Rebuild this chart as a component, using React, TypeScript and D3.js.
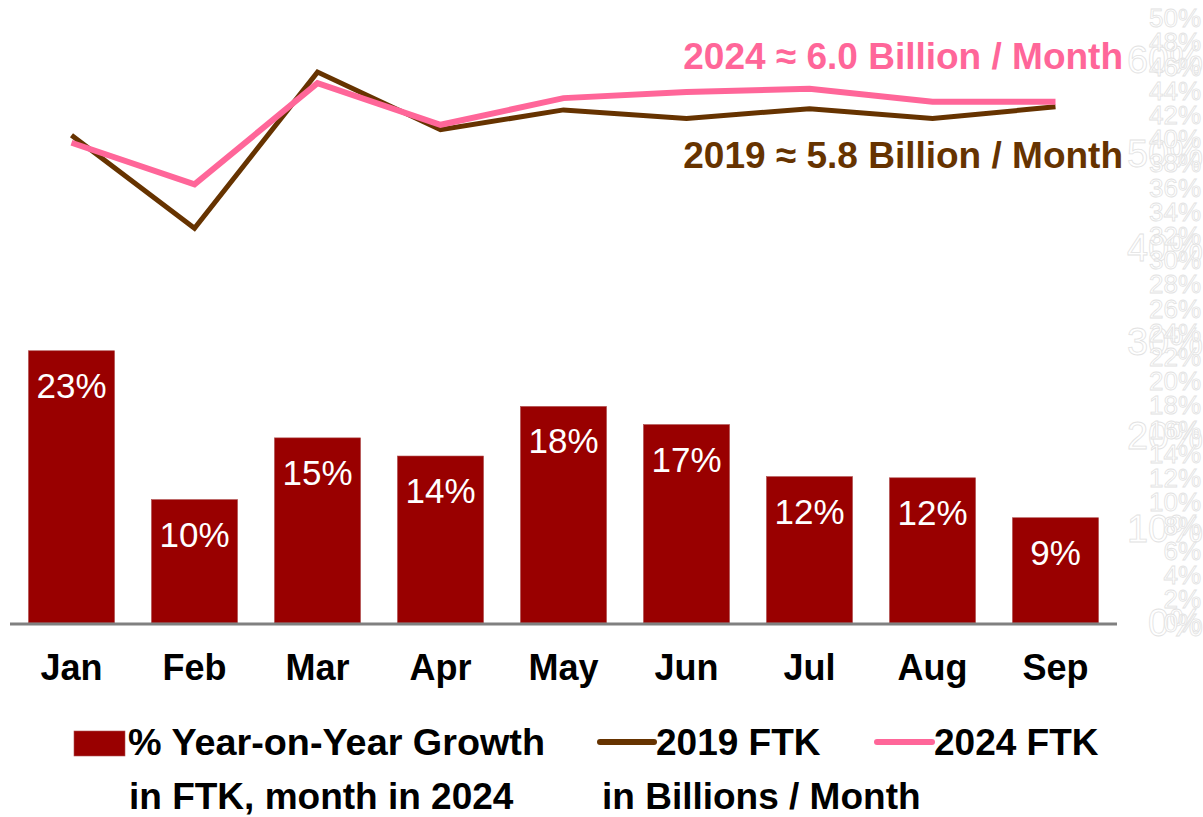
import React from 'react';
import * as d3 from 'd3';

const months = ['Jan', 'Feb', 'Mar', 'Apr', 'May', 'Jun', 'Jul', 'Aug', 'Sep'];
const growth = [22.5, 10.2, 15.3, 13.8, 17.9, 16.4, 12.1, 12.0, 8.7];
const growthLabels = ['23%', '10%', '15%', '14%', '18%', '17%', '12%', '12%', '9%'];
const ftk2019 = [5.64, 4.14, 6.66, 5.73, 6.05, 5.91, 6.07, 5.91, 6.1];
const ftk2024 = [5.52, 4.85, 6.48, 5.81, 6.24, 6.34, 6.39, 6.18, 6.18];
const smallTicks = d3.range(0, 51, 2);
const bigTicks = d3.range(0, 61, 10);

const W = 1203;
const H = 817;
const FONT = '"Liberation Sans", Arial, sans-serif';
const RED = '#990000';
const BROWN = '#663300';
const PINK = '#ff6699';

export default function App() {
  const base = 623;
  const x = d3.scaleBand<string>().domain(months).range([10, 1117]).paddingInner(0.3).paddingOuter(0.15);
  const y = d3.scaleLinear().domain([0, 50]).range([base, 18]);
  const yBig = d3.scaleLinear().domain([0, 60]).range([base, 60]);
  // FTK in billions, hidden axis
  const yLine = d3.scaleLinear().domain([4, 7]).range([237, 51]);

  const line = d3.line<number>()
    .x((_, i) => (x(months[i]) as number) + x.bandwidth() / 2)
    .y(d => yLine(d));

  return (
    <svg width={W} height={H} style={{ position: 'absolute', left: 0, top: 0, background: '#fff' }} fontFamily={FONT}>
      {/* ghost axis labels on the right (white with faint outline) */}
      <g fill="#fff" stroke="#e2e2e2" strokeWidth={0.8} textAnchor="end">
        {bigTicks.map(t => (
          <text key={'b' + t} x={1203} y={yBig(t)} dy="0.35em" fontSize={38}>{t}%</text>
        ))}
        {smallTicks.map(t => (
          <text key={'s' + t} x={1201} y={y(t)} dy="0.35em" fontSize={26}>{t}%</text>
        ))}
      </g>

      {/* bars */}
      {growth.map((v, i) => (
        <rect key={months[i]} x={x(months[i])} y={y(v)} width={x.bandwidth()} height={base - y(v)}
          fill={RED} stroke="#b05050" strokeWidth={0.6} />
      ))}
      {growth.map((v, i) => (
        <text key={'l' + i} x={(x(months[i]) as number) + x.bandwidth() / 2} y={y(v) + 47}
          textAnchor="middle" fill="#fff" fontSize={35}>{growthLabels[i]}</text>
      ))}

      {/* baseline */}
      <line x1={10} x2={1117} y1={base + 1} y2={base + 1} stroke="#808080" strokeWidth={3} />

      {/* month labels */}
      {months.map(m => (
        <text key={m} x={(x(m) as number) + x.bandwidth() / 2} y={680} textAnchor="middle"
          fontSize={36} fontWeight="bold" fill="#000">{m}</text>
      ))}

      {/* lines */}
      <path d={line(ftk2019) as string} fill="none" stroke={BROWN} strokeWidth={5} />
      <path d={line(ftk2024) as string} fill="none" stroke={PINK} strokeWidth={6} />

      {/* annotations */}
      <text x={1123} y={69} textAnchor="end" fontSize={37} fontWeight="bold" fill={PINK}>2024 ≈ 6.0 Billion / Month</text>
      <text x={1123} y={168} textAnchor="end" fontSize={37} fontWeight="bold" fill={BROWN}>2019 ≈ 5.8 Billion / Month</text>

      {/* legend */}
      <g fontSize={37} fontWeight="bold" fill="#000">
        <rect x={74} y={731} width={51} height={25} fill={RED} stroke="#b05050" strokeWidth={0.6} />
        <text x={128} y={755} textLength={417} lengthAdjust="spacingAndGlyphs">% Year-on-Year Growth</text>
        <text x={129} y={809}>in FTK, month in 2024</text>
        <line x1={600} x2={654} y1={742} y2={742} stroke={BROWN} strokeWidth={6} strokeLinecap="round" />
        <text x={656} y={755}>2019 FTK</text>
        <line x1={877} x2={932} y1={742} y2={742} stroke={PINK} strokeWidth={6} strokeLinecap="round" />
        <text x={934} y={755}>2024 FTK</text>
        <text x={602} y={809}>in Billions / Month</text>
      </g>
    </svg>
  );
}
